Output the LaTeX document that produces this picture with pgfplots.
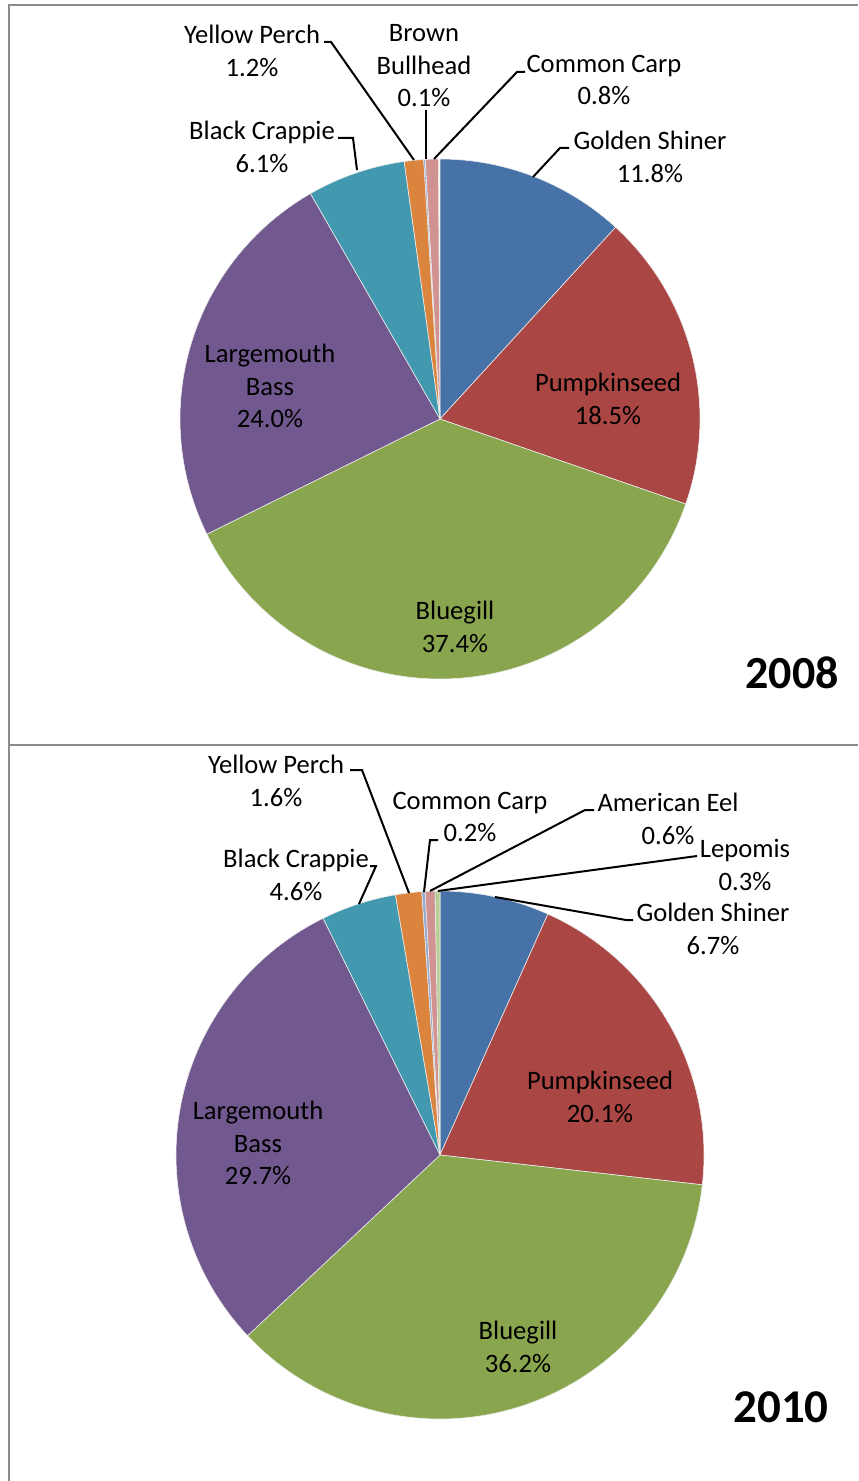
\documentclass[border=0pt]{standalone}
\usepackage{pgfplots}
\usepackage{pgfplotstable}
\pgfplotsset{compat=1.18}
\usepackage{fontspec}
\setmainfont{Carlito}
\definecolor{cBlue}{HTML}{4672A7}
\definecolor{cRed}{HTML}{AA4643}
\definecolor{cGreen}{HTML}{89A54E}
\definecolor{cPurple}{HTML}{71588F}
\definecolor{cAqua}{HTML}{4198AF}
\definecolor{cOrange}{HTML}{DB843D}
\definecolor{cLBlue}{HTML}{93A9CF}
\definecolor{cPink}{HTML}{D19392}
\definecolor{cLGreen}{HTML}{B9CD96}
\definecolor{border}{HTML}{8C8C8C}
\tikzset{lab/.style={font=\fontsize{13.3}{16.25}\selectfont, align=center, text=black, inner sep=0pt},
         ldr/.style={line width=1pt, black}}

% 2008
\pgfplotstableread{
name pct col
GoldenShiner 11.8 cBlue
Pumpkinseed 18.5 cRed
Bluegill 37.4 cGreen
LargemouthBass 24.0 cPurple
BlackCrappie 6.1 cAqua
YellowPerch 1.2 cOrange
BrownBullhead 0.1 cLBlue
CommonCarp 0.8 cPink
}\tabA
% 2010
\pgfplotstableread{
name pct col
GoldenShiner 6.7 cBlue
Pumpkinseed 20.1 cRed
Bluegill 36.2 cGreen
LargemouthBass 29.7 cPurple
BlackCrappie 4.6 cAqua
YellowPerch 1.6 cOrange
CommonCarp 0.2 cLBlue
AmericanEel 0.6 cPink
Lepomis 0.3 cLGreen
}\tabB

% #1 table, #2 cx, #3 cy, #4 radius (all in reference pixel units)
\newcommand\drawpie[4]{%
  \pgfplotstablegetrowsof{#1}%
  \pgfmathtruncatemacro\nrows{\pgfplotsretval-1}%
  \def\angA{0}%
  \pgfplotsforeachungrouped \i in {0,...,\nrows}{%
    \pgfplotstablegetelem{\i}{pct}\of#1\let\pct\pgfplotsretval
    \pgfplotstablegetelem{\i}{col}\of#1\let\col\pgfplotsretval
    \pgfmathsetmacro\angB{\angA+3.6*\pct}%
    \pgfmathtruncatemacro\nst{max(2,ceil((\angB-\angA)/0.5))}%
    \pgfmathsetmacro\dd{(\angB-\angA)/\nst}%
    \edef\doslice{\noexpand\filldraw[fill=\col,draw=white!85!gray,line width=0.3pt,line join=round]
      (axis cs:#2,#3)
      \noexpand\foreach \noexpand\k in {0,...,\nst}{
        -- (axis cs:{#2+#4*sin(\angA+\noexpand\k*\dd)},{#3-#4*cos(\angA+\noexpand\k*\dd)})
      } -- cycle;}%
    \doslice
    \let\angA\angB
  }%
}

\begin{document}
\begin{tikzpicture}
\begin{axis}[
  x=0.5pt, y=0.5pt,
  xmin=0, xmax=858, ymin=0, ymax=1481,
  y dir=reverse,
  enlargelimits=false,
  hide axis,
  clip=false,
]
% frame
\draw[border, line width=1pt] (axis cs:9,1481) -- (axis cs:9,5.5) -- (axis cs:858,5.5);
\draw[border, line width=1pt] (axis cs:9,745) -- (axis cs:858,745);

% ---------- 2008 ----------
\drawpie{\tabA}{440}{419}{260}
\node[lab] at (axis cs:455,627) {Bluegill\\37.4\%};
\node[lab] at (axis cs:608,399) {Pumpkinseed\\18.5\%};
\node[lab] at (axis cs:270,386) {Largemouth\\Bass\\24.0\%};
\node[lab] at (axis cs:650,157) {Golden Shiner\\11.8\%};
\node[lab] at (axis cs:262,147) {Black Crappie\\6.1\%};
\node[lab] at (axis cs:252,51) {Yellow Perch\\1.2\%};
\node[lab] at (axis cs:424,66) {Brown\\Bullhead\\0.1\%};
\node[lab] at (axis cs:604,80) {Common Carp\\0.8\%};
\draw[ldr] (axis cs:569,148) -- (axis cs:560,148) -- (axis cs:533,177);
\draw[ldr] (axis cs:338,138) -- (axis cs:353,138) -- (axis cs:357,170);
\draw[ldr] (axis cs:324,42) -- (axis cs:331,42) -- (axis cs:414,160);
\draw[ldr] (axis cs:426,110) -- (axis cs:426,159);
\draw[ldr] (axis cs:525,72) -- (axis cs:517,72) -- (axis cs:434,159);
\node[font=\fontsize{23}{28}\selectfont\bfseries] at (axis cs:792,673) {2008};

% ---------- 2010 ----------
\drawpie{\tabB}{440}{1155}{264}
\node[lab] at (axis cs:518,1347) {Bluegill\\36.2\%};
\node[lab] at (axis cs:600,1097) {Pumpkinseed\\20.1\%};
\node[lab] at (axis cs:258,1143) {Largemouth\\Bass\\29.7\%};
\node[lab] at (axis cs:713,929) {Golden Shiner\\6.7\%};
\node[lab] at (axis cs:296,875) {Black Crappie\\4.6\%};
\node[lab] at (axis cs:276,781) {Yellow Perch\\1.6\%};
\node[lab] at (axis cs:470,817) {Common Carp\\0.2\%};
\node[lab] at (axis cs:668,819) {American Eel\\0.6\%};
\node[lab] at (axis cs:745,865) {Lepomis\\0.3\%};
\draw[ldr] (axis cs:633,920) -- (axis cs:626,920) -- (axis cs:495,897);
\draw[ldr] (axis cs:370,866) -- (axis cs:376,866) -- (axis cs:359,904);
\draw[ldr] (axis cs:350,770) -- (axis cs:362,770) -- (axis cs:409,893);
\draw[ldr] (axis cs:438,840) -- (axis cs:430,840) -- (axis cs:424,892);
\draw[ldr] (axis cs:594,810) -- (axis cs:585,810) -- (axis cs:430,891);
\draw[ldr] (axis cs:697,856) -- (axis cs:438,891);
\node[font=\fontsize{23.5}{28}\selectfont\bfseries] at (axis cs:781,1407) {2010};
\end{axis}
\pgfresetboundingbox
\path[use as bounding box] (current axis.south west) rectangle (current axis.north east);
\end{tikzpicture}
\end{document}
